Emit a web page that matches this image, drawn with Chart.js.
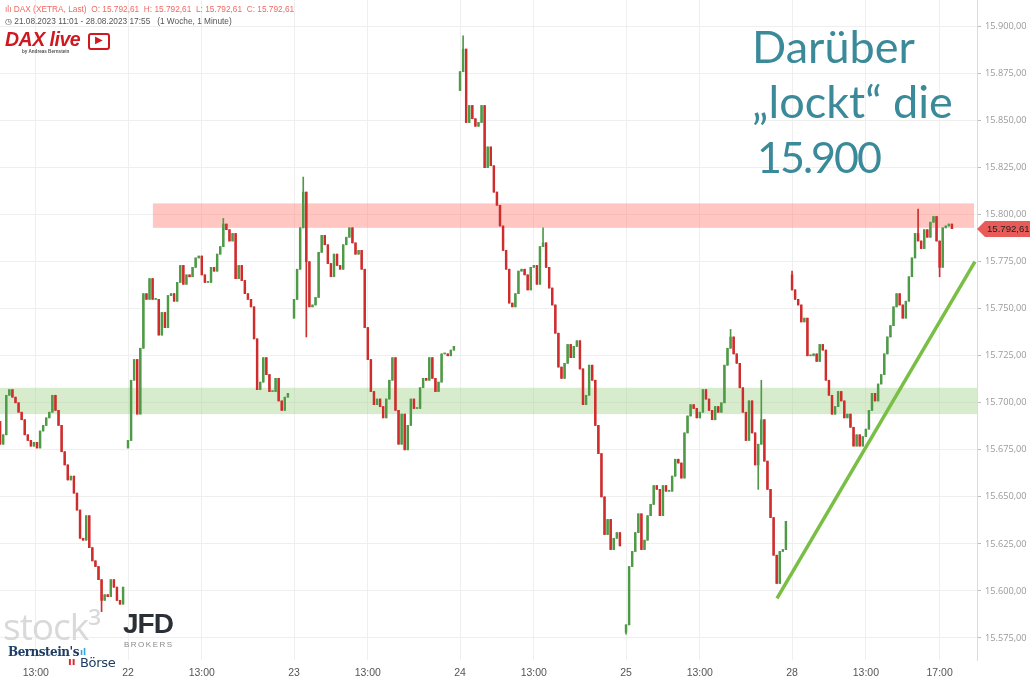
<!DOCTYPE html>
<html lang="de">
<head>
<meta charset="utf-8">
<title>DAX 21.08.2023 - 28.08.2023</title>
<script src="https://cdn.jsdelivr.net/npm/chart.js@4.4.0/dist/chart.umd.min.js"></script>
<style>
    html, body { margin: 0; padding: 0; background: #fff; overflow: hidden; }
    #wrap { position: relative; width: 1030px; height: 682px; }
    canvas { position: absolute; left: 0; top: 0; }
    .ov { position: absolute; white-space: nowrap; }
    #hdr1 { left: 5px; top: 4px; font: 8.3px 'Liberation Sans', Arial, sans-serif; color: #ef6a62; }
    #hdr2 { left: 5px; top: 16px; font: 8.3px 'Liberation Sans', Arial, sans-serif; color: #555; }
    #daxlive { left: 5px; top: 28px; font: italic bold 19.5px 'Liberation Sans', Arial, sans-serif; color: #cf1820; letter-spacing: -0.5px; }
    #daxby { left: 22px; top: 49px; font: bold 4.6px 'Liberation Sans', Arial, sans-serif; color: #555; }
    #play { left: 88px; top: 33px; width: 22px; height: 17px; border: 2.5px solid #cf1820; border-radius: 3px; box-sizing: border-box; }
    #play span { position: absolute; left: 5px; top: -1px; font: 10px 'DejaVu Sans', sans-serif; color: #cf1820; }
    #note { left: 752px; top: 19px; font: 45px Lato, sans-serif; line-height: 55px; color: #3b8a99; }
    #note .num { margin-left: 5px; letter-spacing: -2px; font-size: 43px; }
    #stock { left: 3px; top: 600px; font: 37px 'Open Sans', sans-serif; color: #d9d9d9; letter-spacing: -1px; }
    #jfd { left: 123px; top: 608px; font: bold 28px 'Liberation Sans', Arial, sans-serif; color: #2b2f36; letter-spacing: -1px; }
    #brokers { left: 124px; top: 640px; font: 8px 'Liberation Sans', Arial, sans-serif; color: #8a8a8a; letter-spacing: 1.5px; }
    #bern { left: 8px; top: 645px; font: bold 12px 'DejaVu Serif', serif; color: #1d3d64; letter-spacing: -0.5px; }
    #boerse { left: 80px; top: 655px; font: 13px 'DejaVu Sans', sans-serif; color: #1d3d64; letter-spacing: -0.3px; }
    #bmark { left: 68px; top: 655px; font: bold 11px 'DejaVu Sans', sans-serif; color: #e0262d; }
    #bbars { left: 80px; top: 647px; font: bold 9px 'DejaVu Sans', sans-serif; color: #3aa4dc; }
</style>
</head>
<body>
<div id="wrap">
    <canvas id="chart" width="1030" height="682"></canvas>
    <div class="ov" id="hdr1">ılı DAX (XETRA, Last)&nbsp; O: 15.792,61&nbsp; H: 15.792,61&nbsp; L: 15.792,61&nbsp; C: 15.792,61</div>
    <div class="ov" id="hdr2">◷ 21.08.2023 11:01 - 28.08.2023 17:55&nbsp;&nbsp; (1 Woche, 1 Minute)</div>
    <div class="ov" id="daxlive">DAX live</div>
    <div class="ov" id="daxby">by Andreas Bernstein</div>
    <div class="ov" id="play"><span>▶</span></div>
    <div class="ov" id="note">Darüber<br>„lockt“ die<br><span class="num">15.900</span></div>
    <div class="ov" id="stock">stock³</div>
    <div class="ov" id="jfd">JFD</div>
    <div class="ov" id="brokers">BROKERS</div>
    <div class="ov" id="bern">Bernstein's</div>
    <div class="ov" id="bbars">ıl</div>
    <div class="ov" id="bmark">ıı</div>
    <div class="ov" id="boerse">Börse</div>
</div>
<script>
// 10-minute closes per trading day
const day21 = [15678, 15683, 15704, 15707, 15703, 15700, 15695, 15691, 15683, 15680, 15677, 15679, 15676, 15685,
    15688, 15692, 15695, 15704, 15696, 15688, 15674, 15667, 15659, 15661, 15652, 15643, 15628, 15627, 15640, 15623,
    15616, 15613, 15606, 15595, 15598, 15597, 15606, 15602, 15595, 15593, 15602];
const day22 = [15680, 15712, 15723, 15694, 15729, 15758, 15755, 15766, 15755, 15755, 15736, 15748, 15740, 15757,
    15758, 15754, 15764, 15773, 15763, 15768, 15767, 15772, 15777, 15778, 15768, 15764, 15764, 15772, 15770, 15779,
    15783, 15795, 15792, 15786, 15790, 15766, 15773, 15765, 15758, 15755, 15751, 15734, 15707, 15711, 15724, 15715,
    15706, 15706, 15713, 15701, 15696, 15703, 15705];
const day23 = [15755, 15771, 15793, 15812, 15775, 15751, 15752, 15756, 15780, 15789, 15784, 15774, 15767, 15779,
    15773, 15771, 15784, 15788, 15793, 15785, 15779, 15781, 15771, 15740, 15723, 15706, 15699, 15702, 15698, 15692,
    15702, 15712, 15724, 15696, 15678, 15694, 15675, 15688, 15702, 15697, 15697, 15708, 15713, 15712, 15724, 15713,
    15706, 15711, 15726, 15726, 15725, 15728, 15730];
const day24 = [15876, 15888, 15849, 15858, 15851, 15847, 15849, 15858, 15825, 15836, 15826, 15812, 15805, 15794,
    15781, 15771, 15753, 15751, 15758, 15770, 15771, 15768, 15760, 15772, 15773, 15763, 15783, 15785, 15772, 15761,
    15752, 15737, 15719, 15713, 15721, 15731, 15724, 15730, 15733, 15718, 15699, 15704, 15720, 15712, 15688, 15673,
    15650, 15630, 15638, 15622, 15628, 15631, 15624];
const day25 = [15582, 15613, 15621, 15631, 15641, 15622, 15627, 15640, 15646, 15656, 15654, 15640, 15656, 15653,
    15653, 15661, 15670, 15668, 15660, 15684, 15693, 15699, 15697, 15692, 15695, 15707, 15702, 15696, 15691, 15698,
    15695, 15700, 15720, 15729, 15735, 15726, 15721, 15708, 15695, 15680, 15701, 15684, 15667, 15678, 15691, 15669,
    15654, 15639, 15619, 15604, 15621, 15622, 15637];
const day28 = [15760, 15755, 15752, 15743, 15745, 15725, 15725, 15726, 15722, 15731, 15728, 15712, 15704, 15694,
    15698, 15706, 15701, 15692, 15694, 15687, 15677, 15683, 15677, 15682, 15686, 15696, 15705, 15701, 15710, 15715,
    15726, 15735, 15741, 15751, 15758, 15752, 15745, 15754, 15767, 15777, 15790, 15786, 15782, 15792, 15788, 15796,
    15799, 15786, 15772, 15793, 15794, 15795, 15792.61];

const dayCloses = [day21, day22, day23, day24, day25, day28];
const dayOpens = [15690, 15676, 15745, 15866, 15578, 15768];
// first candle of each day, in trading minutes (each day = 540 minutes from 09:00)
const dayStartMinutes = [124, 540, 1080, 1620, 2160, 2700];
const SLOT_MINUTES = 10;

// long wicks: [day, slot, price]
const spikes = [
    [0, 33, 15589], [1, 31, 15798], [2, 3, 15820], [2, 4, 15735], [3, 1, 15895], [3, 27, 15793],
    [4, 0, 15577], [4, 34, 15739], [4, 43, 15654], [4, 44, 15712], [5, 0, 15770], [5, 41, 15803], [5, 48, 15767]
];

// axis ticks
const xTickMinutes = [240, 540, 780, 1080, 1320, 1620, 1860, 2160, 2400, 2700, 2940, 3180];
const xTickLabels = ['13:00', '22', '13:00', '23', '13:00', '24', '13:00', '25', '13:00', '28', '13:00', '17:00'];
const yTicks = [15575, 15600, 15625, 15650, 15675, 15700, 15725, 15750, 15775, 15800, 15825, 15850, 15875, 15900];

// marked zones and trend line
const resistanceZone = [15793, 15806];
const resistanceFrom = 621;
const resistanceTo = 3292;
const supportZone = [15694, 15708];
const trendLine = [{ x: 2651, y: 15596 }, { x: 3295, y: 15775 }];
const lastPrice = 15792.61;

const GREEN = '#4f9a47';
const RED = '#cf2c2c';

function fmtDe(v, dec) {
    const parts = v.toFixed(dec).split('.');
    return parts[0].replace(/\B(?=(\d{3})+(?!\d))/g, '.') + ',' + parts[1];
}

// build candles
const bodies = [];
const wicks = [];
const candleColors = [];
dayCloses.forEach((closes, d) => {
    let prev = dayOpens[d];
    closes.forEach((c, k) => {
        const x = dayStartMinutes[d] + k * SLOT_MINUTES;
        let lo = Math.min(prev, c);
        let hi = Math.max(prev, c);
        spikes.filter(s => s[0] === d && s[1] === k).forEach(s => {
            lo = Math.min(lo, s[2]);
            hi = Math.max(hi, s[2]);
        });
        bodies.push({ x: x, y: [prev, c] });
        wicks.push({ x: x, y: [lo, hi] });
        candleColors.push(c >= prev ? GREEN : RED);
        prev = c;
    });
});

// zones under the candles
const zonesPlugin = {
    id: 'zones',
    beforeDatasetsDraw(chart) {
        const { ctx, chartArea, scales } = chart;
        const x = scales.x, y = scales.y;
        ctx.save();
        ctx.fillStyle = 'rgba(160, 208, 135, 0.42)';
        const gy1 = y.getPixelForValue(supportZone[1]);
        const gy0 = y.getPixelForValue(supportZone[0]);
        ctx.fillRect(chartArea.left, gy1, chartArea.right - chartArea.left, gy0 - gy1);
        ctx.fillStyle = 'rgba(255, 120, 110, 0.42)';
        const ry1 = y.getPixelForValue(resistanceZone[1]);
        const ry0 = y.getPixelForValue(resistanceZone[0]);
        const rx0 = x.getPixelForValue(resistanceFrom);
        const rx1 = x.getPixelForValue(resistanceTo);
        ctx.fillRect(rx0, ry1, rx1 - rx0, ry0 - ry1);
        ctx.restore();
    }
};

// last price tag on the right axis
const priceTagPlugin = {
    id: 'priceTag',
    afterDraw(chart) {
        const { ctx, chartArea, scales } = chart;
        const py = Math.round(scales.y.getPixelForValue(lastPrice));
        const x0 = chartArea.right;
        ctx.save();
        ctx.fillStyle = '#e95b58';
        ctx.beginPath();
        ctx.moveTo(x0, py);
        ctx.lineTo(x0 + 8, py - 8);
        ctx.lineTo(1030, py - 8);
        ctx.lineTo(1030, py + 8);
        ctx.lineTo(x0 + 8, py + 8);
        ctx.closePath();
        ctx.fill();
        ctx.fillStyle = '#222';
        ctx.font = '9.6px "Liberation Sans", Arial, sans-serif';
        ctx.textBaseline = 'middle';
        ctx.fillText(fmtDe(lastPrice, 2), x0 + 10, py + 0.5);
        ctx.restore();
    }
};

new Chart(document.getElementById('chart'), {
    type: 'bar',
    data: {
        datasets: [
            {
                type: 'line',
                data: trendLine,
                borderColor: '#79bf45',
                borderWidth: 3.5,
                pointRadius: 0,
                order: 0
            },
            {
                data: bodies,
                backgroundColor: candleColors,
                barThickness: 1.8,
                minBarLength: 1,
                grouped: false,
                order: 1
            },
            {
                data: wicks,
                backgroundColor: candleColors,
                barThickness: 1,
                grouped: false,
                order: 2
            }
        ]
    },
    options: {
        responsive: false,
        animation: false,
        events: [],
        layout: { padding: 0 },
        plugins: {
            legend: { display: false },
            tooltip: { enabled: false }
        },
        scales: {
            x: {
                type: 'linear',
                min: 123.6,
                max: 3301.6,
                offset: false,
                afterBuildTicks: axis => { axis.ticks = xTickMinutes.map(v => ({ value: v })); },
                afterFit: axis => {
                    axis.height = 22;
                    axis.paddingLeft = 0;
                    axis.paddingRight = 0;
                },
                ticks: {
                    callback: (v, i) => xTickLabels[i],
                    autoSkip: false,
                    maxRotation: 0,
                    color: '#555',
                    font: { family: "'Liberation Sans', Arial, sans-serif", size: 10.5 },
                    padding: 7
                },
                grid: { color: '#efefef', drawTicks: false, offset: false },
                border: { display: false }
            },
            y: {
                position: 'right',
                min: 15563.3,
                max: 15914.1,
                afterBuildTicks: axis => { axis.ticks = yTicks.map(v => ({ value: v })); },
                afterFit: axis => {
                    axis.width = 53;
                    axis.paddingTop = 0;
                    axis.paddingBottom = 0;
                },
                ticks: {
                    callback: v => fmtDe(v, 2),
                    color: '#9a9a9a',
                    font: { family: "'Open Sans', sans-serif", size: 9.2 },
                    padding: 4
                },
                grid: { color: '#efefef', tickLength: 4, tickColor: '#bbb' },
                border: { display: true, color: '#dcdcdc' }
            }
        }
    },
    plugins: [zonesPlugin, priceTagPlugin]
});
</script>
</body>
</html>
